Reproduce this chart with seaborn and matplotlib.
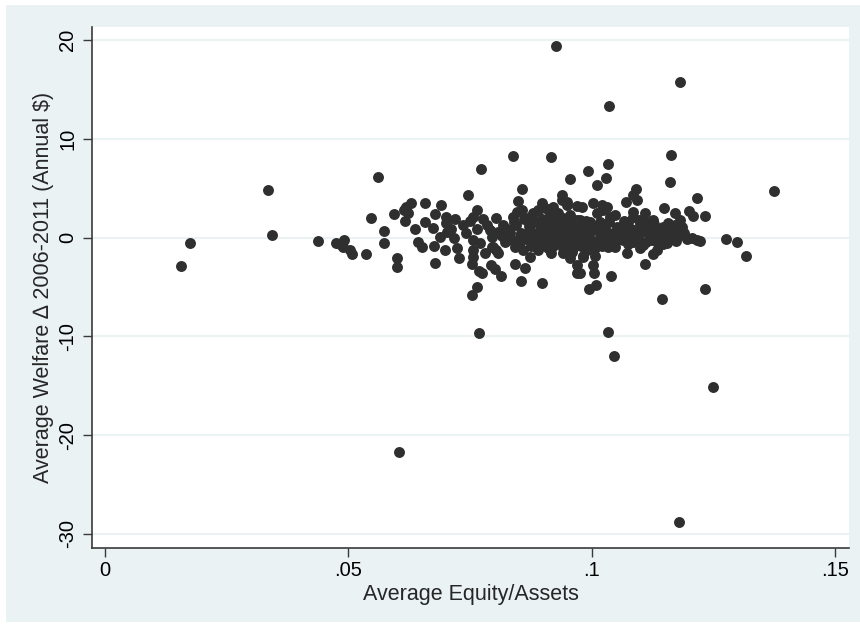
import numpy as np
import pandas as pd
import seaborn as sns
import matplotlib.pyplot as plt
from matplotlib.patches import Rectangle

# average equity/assets and welfare change
# far outliers
out_x = [0.0156, 0.0175, 0.0334, 0.0342, 0.0603, 0.0768, 0.0926, 0.1035, 0.1181,
         0.1033, 0.1045, 0.1248, 0.1179, 0.1374]
out_y = [-2.87, -0.54, 4.86, 0.27, -21.74, -9.69, 19.4, 13.3, 15.8,
         -9.55, -11.99, -15.1, -28.77, 4.73]

# left tail
left_x = [0.0437, 0.0474, 0.0483, 0.0491, 0.0488, 0.0503, 0.0507, 0.0536, 0.0546,
          0.0560, 0.0573, 0.0574, 0.0593, 0.0599, 0.0599, 0.0616, 0.0614, 0.0623,
          0.0628, 0.0618, 0.0637, 0.0643, 0.0651, 0.0657, 0.0657]
left_y = [-0.33, -0.54, -0.64, -0.23, -0.91, -1.25, -1.65, -1.69, 1.96,
          6.1, 0.68, -0.57, 2.4, -2.03, -3.0, 1.69, 2.8, 2.47,
          3.55, 3.14, 0.88, -0.4, -0.91, 3.48, 1.62]

# middle-left part of the cloud
mid_x = [0.0837, 0.0915, 0.0772, 0.0956, 0.0746, 0.0857, 0.0849, 0.0691, 0.0763,
         0.0678, 0.0700, 0.0719, 0.0674, 0.0700, 0.0688, 0.0703, 0.0717, 0.0676,
         0.0698, 0.0723, 0.0728, 0.0678, 0.0741, 0.0749, 0.0756, 0.0777, 0.0756,
         0.0755, 0.0756, 0.0753, 0.0769, 0.0774, 0.0763, 0.0753, 0.0793, 0.0800,
         0.0813, 0.0854, 0.0897, 0.0842, 0.0862, 0.0804, 0.0794, 0.0791, 0.0710,
         0.0735, 0.0765, 0.0770, 0.0785, 0.0780]
mid_y = [8.28, 8.15, 6.93, 5.92, 4.33, 4.93, 3.75, 3.31, 2.8,
         2.37, 2.13, 1.86, 0.95, 1.46, 0.1, 0.61, -0.06, -0.84,
         -1.25, -1.08, -2.02, -2.6, 0.51, 1.72, 2.13, 1.86, -0.23,
         -1.25, -1.99, -2.66, -3.34, -3.54, -5.03, -5.8, -2.77, -3.2,
         -3.88, -4.36, -4.62, -2.7, -3.1, -1.25, -0.91, 0.78, 0.9,
         1.3, 0.9, -0.5, 1.3, -1.6]

# dense core, .08 to .097
core1_x = [0.0804, 0.0818, 0.0808, 0.0794, 0.0797, 0.0808, 0.0821, 0.0832, 0.0838,
           0.0847, 0.0856, 0.0845, 0.0852, 0.0842, 0.0859, 0.0873, 0.0880, 0.0873,
           0.0869, 0.0880, 0.0890, 0.0897, 0.0903, 0.0914, 0.0903, 0.0893, 0.0903,
           0.0910, 0.0917, 0.0890, 0.0921, 0.0938, 0.0938, 0.0948, 0.0969, 0.0931,
           0.0941, 0.0955, 0.0969, 0.0962, 0.0941, 0.0934, 0.0948, 0.0962, 0.0941,
           0.0955, 0.0969, 0.0969, 0.0972, 0.0931, 0.0921, 0.0927, 0.0948]
core1_y = [1.96, 1.29, 0.61, 0.10, -0.91, -1.58, -0.40, 0.44, 2.13,
           2.64, 2.81, 1.29, 0.10, -0.91, -1.25, -1.92, -0.40, 0.78,
           1.96, 2.47, 2.81, 3.48, 2.97, 2.30, 1.62, 0.78, 0.10,
           -1.08, -1.58, -1.25, 3.14, 4.33, 3.82, 3.31, 3.21, 2.47,
           1.96, 2.30, 1.79, 0.95, 0.61, -0.06, -0.57, -1.08, -1.58,
           -2.09, -2.77, -3.61, 0.10, 1.12, 0.44, -0.57, 3.65]

fill1_x = [0.0815, 0.0825, 0.0835, 0.0840, 0.0850, 0.0855, 0.0860, 0.0865, 0.0870,
           0.0875, 0.0878, 0.0885, 0.0888, 0.0895, 0.0898, 0.0900, 0.0905, 0.0908,
           0.0912, 0.0915, 0.0920, 0.0925, 0.0928, 0.0932, 0.0936, 0.0940, 0.0945,
           0.0950, 0.0953, 0.0958, 0.0960, 0.0965, 0.0968, 0.0975, 0.0978, 0.0983,
           0.0987, 0.0990]
fill1_y = [0.2, 0.9, -0.2, 1.6, -0.6, 0.5, 1.9, -0.1, 1.2,
           -0.8, 0.3, 1.6, -0.3, 0.4, 1.9, -0.7, 1.0, -0.1,
           0.6, 1.5, -0.9, 0.2, 1.8, -0.3, 0.8, -1.1, 1.3,
           0.3, -0.4, 1.6, -1.5, 0.5, -0.2, 1.0, -0.8, 0.3,
           1.7, -0.5]

# dense core, .0975 to .118
core2_x = [0.0975, 0.0986, 0.0996, 0.0989, 0.0979, 0.0996, 0.1010, 0.1016, 0.1027,
           0.1037, 0.1044, 0.1030, 0.1016, 0.1040, 0.1006, 0.0989, 0.0982, 0.1003,
           0.1023, 0.1047, 0.1058, 0.1068, 0.1078, 0.1088, 0.1099, 0.1109, 0.1119,
           0.1129, 0.1140, 0.1119, 0.1095, 0.1071, 0.1058, 0.1085, 0.1075, 0.1126,
           0.1146, 0.1160, 0.1170, 0.1181, 0.1157, 0.1133, 0.1112, 0.1085, 0.1064,
           0.1109, 0.1085, 0.1047, 0.1034]
core2_y = [1.79, 1.12, 1.62, 0.44, -0.23, -0.57, 2.47, 1.62, 1.12,
           2.13, 0.44, -0.23, 0.10, -0.57, -1.08, -1.25, -1.92, 0.78,
           2.81, 2.30, 0.78, 1.12, 0.61, 0.44, 1.29, 1.62, 1.12,
           0.61, 0.27, 0.10, -0.06, -0.06, 0.27, 2.13, 1.62, 1.79,
           1.12, 0.78, 1.29, 0.61, 0.10, -0.40, -0.40, -0.40, -0.23,
           2.47, 2.64, -0.91, -0.91]

fill2_x = [0.0995, 0.1005, 0.1012, 0.1020, 0.1025, 0.1035, 0.1040, 0.1050, 0.1052,
           0.1062, 0.1066, 0.1075, 0.1080, 0.1092, 0.1096, 0.1102, 0.1105, 0.1115,
           0.1122, 0.1128, 0.1136, 0.1145, 0.1150, 0.1165, 0.1172, 0.1176, 0.1190,
           0.1195]
fill2_y = [0.1, -0.4, 1.1, -0.8, 0.6, 1.6, 0.1, -0.3, 1.1,
           0.5, 1.7, -0.6, 0.9, 0.2, 1.8, 0.6, -0.7, 0.9,
           -0.2, 1.4, 0.3, -0.6, 0.7, 0.4, -0.3, 0.9, 0.5,
           -0.1]

# right side of the cloud
right_x = [0.1163, 0.1160, 0.1034, 0.0992, 0.1029, 0.1011, 0.1090, 0.1084, 0.1093,
           0.1069, 0.1215, 0.1003, 0.1020, 0.1030, 0.1148, 0.1170, 0.1200, 0.1208,
           0.1232, 0.0979, 0.1181, 0.1157, 0.1184, 0.1205, 0.1215, 0.1222, 0.1275,
           0.1181, 0.1155, 0.1134, 0.1125, 0.1099, 0.1073, 0.1110, 0.1039, 0.1006,
           0.1003, 0.1004, 0.1008, 0.0994, 0.1143, 0.1233, 0.0975, 0.0982, 0.1297,
           0.1316]
right_y = [8.41, 5.64, 7.47, 6.79, 6.08, 5.34, 4.9, 4.33, 3.82,
           3.65, 3.99, 3.48, 3.31, 3.08, 2.98, 2.53, 2.7, 2.23,
           2.23, 3.14, 1.79, 1.46, 1.11, -0.06, -0.23, -0.3, -0.13,
           0.27, -0.5, -1.25, -1.65, -1.08, -1.52, -2.67, -3.88, -1.85,
           -2.77, -3.61, -4.79, -5.23, -6.21, -5.23, -3.54, -1.85, -0.4,
           -1.82]

equity = out_x + left_x + mid_x + core1_x + fill1_x + core2_x + fill2_x + right_x
welfare = out_y + left_y + mid_y + core1_y + fill1_y + core2_y + fill2_y + right_y
df = pd.DataFrame({"equity": equity, "welfare": welfare})

x_ticks = [0, 0.05, 0.1, 0.15]
x_labels = ["0", ".05", ".1", ".15"]
y_ticks = [-30, -20, -10, 0, 10, 20]

sns.set_style("white")
plt.rcParams["font.family"] = ["Liberation Sans", "DejaVu Sans"]

bg = "#EAF2F3"
dark = "#2f2f2f"

fig = plt.figure(figsize=(8.6, 6.3), dpi=100, facecolor="white")
# light graph region behind the plot
fig.patches.append(Rectangle((6 / 860, 8 / 630), 854 / 860, 617 / 630,
                             transform=fig.transFigure, facecolor=bg,
                             edgecolor="none", zorder=-10))
ax = fig.add_axes([92 / 860, 82.3 / 630, 757 / 860, 521 / 630])
ax.set_zorder(1)
ax.set_facecolor("white")

for yt in y_ticks:
    ax.axhline(yt, color=bg, lw=1.5, zorder=0)

sns.scatterplot(data=df, x="equity", y="welfare", ax=ax, s=62,
                color=dark, linewidth=0, zorder=3)

ax.set_xlim(-0.00267, 0.1528)
ax.set_ylim(-31.39, 21.35)
ax.set_xticks(x_ticks)
ax.set_xticklabels(x_labels)
ax.set_yticks(y_ticks)
ax.set_yticklabels([str(t) for t in y_ticks], rotation=90, va="center")

for side in ["top", "right"]:
    ax.spines[side].set_visible(False)
for side in ["left", "bottom"]:
    ax.spines[side].set_color("#3a3a3a")
    ax.spines[side].set_linewidth(1.2)

ax.tick_params(axis="both", direction="out", length=6.5, width=1,
               color="#3a3a3a", labelsize=14.5, labelcolor="black",
               bottom=True, left=True)
ax.tick_params(axis="y", pad=4)
ax.tick_params(axis="x", pad=3)

ax.set_xlabel("Average Equity/Assets", fontsize=15.5, labelpad=3)
ax.set_ylabel("Average Welfare \u2206 2006-2011 (Annual $)", fontsize=15.5, labelpad=3)

plt.savefig("out.png", dpi=100, facecolor="white")
